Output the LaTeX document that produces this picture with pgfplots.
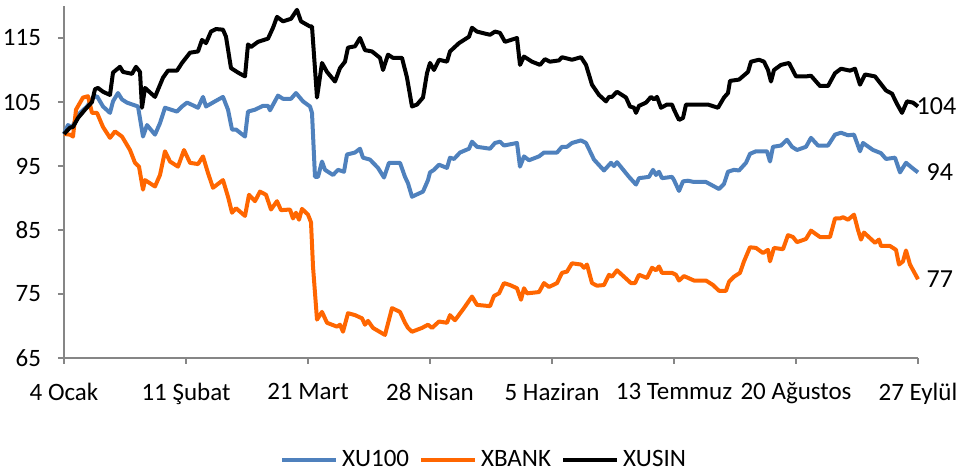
\documentclass[border=0pt]{standalone}
\usepackage{fontspec}
\setmainfont{Carlito}
\usepackage{pgfplots}
\usepackage{pgfplotstable}
\pgfplotsset{compat=1.18}

\definecolor{cBlue}{RGB}{79,129,189}
\definecolor{cOrange}{RGB}{255,102,0}
\definecolor{cAxis}{RGB}{134,134,134}

% x = pixel column of the original chart (64 = 4 Ocak, 918 = 27 Eylul)
\pgfplotstableread{
x v
64 100
70 101
73 101.1
78 102.5
85 103.8
92 105
95 107
98 107.2
103 106.6
110 106.1
113 109.6
120 110.5
123 109.7
132 109.4
136 110.5
140 109.7
142 104.1
145 107.2
155 105.8
163 108.8
168 109.9
177 109.9
182 111.1
190 112.7
198 112.9
202 114.7
206 114.2
211 116
216 116.4
223 116.3
226 115.2
231 110.3
238 109.6
245 109
248 114
251 113.6
258 114.4
268 114.9
273 116.6
277 118.3
283 117.6
291 118
297 119.4
301 117.6
310 116.8
312 116.8
317 105.7
322 111.1
327 109.7
335 108.2
340 110.3
345 111.3
348 113.5
355 113.7
360 115
365 113.1
372 112.9
380 111.9
383 110
388 112.4
393 111.9
402 111.9
407 108.8
412 104.3
417 104.6
423 105.7
427 109.5
430 111.1
434 110
439 111.6
447 111.3
450 112.9
459 114.2
469 115.2
472 116.6
477 116
490 115.5
495 116
500 115.8
505 114.4
517 115
520 110.8
524 112.1
532 111.3
540 110.8
545 111.7
550 111.3
559 111.5
562 112
572 111.6
581 112
586 110.8
592 107.7
599 106.1
606 105.1
609 105.8
612 105.8
617 106.6
626 105.7
630 104.3
634 104.1
636 103.3
639 104.4
646 104.9
651 105.8
654 105.4
657 105.8
661 104.1
667 104.6
672 104.6
674 103.8
679 102.2
683 102.5
686 104.6
708 104.6
718 104.1
724 105.7
728 106.4
730 108.3
739 108.5
748 109.7
751 111.3
759 111.6
764 111.3
768 110
771 108.2
774 110
781 110.8
789 111.1
796 109
806 109
811 109.1
820 107.5
828 107.5
835 109.5
841 110.2
850 109.9
855 110.2
860 107.7
865 109.3
875 109
879 108.2
886 106.8
892 106.3
897 104.7
902 103.3
907 105.1
913 104.9
918 104.3
}\xusin

\pgfplotstableread{
x v
64 100
68 101.4
72 101
78 103
87 104.3
93 105.7
97 105.9
103 104.3
110 103.3
113 105.1
118 106.4
122 105.4
127 104.9
138 104.3
143 99.6
147 101.4
155 99.9
160 101.7
165 104.1
177 103.5
182 104.3
187 104.9
190 104.7
198 104.1
203 105.8
206 104.3
215 105.1
223 105.8
228 103.8
232 100.7
236 100.7
245 99.6
248 103.5
255 103.8
263 104.4
268 104.4
270 103.7
278 106
283 105.5
291 105.5
296 106.4
303 105.1
310 104.3
312 103.3
315 93.3
318 93.3
322 95.7
325 94.4
333 93.6
338 94.4
344 94.1
347 96.8
355 97.1
360 97.7
363 96.3
370 96
378 94.7
384 93.2
389 95.5
400 95.5
405 93.3
408 92.3
412 90.2
423 91
428 92.8
430 94
434 94.4
439 95.2
447 94.7
450 96.3
454 96.1
460 97.1
469 97.7
472 98.8
477 98
490 97.7
495 98.6
500 98.8
504 98.2
517 98.6
520 94.9
524 96.5
529 95.9
539 96.5
544 97.1
557 97.1
562 98
567 98
572 98.6
581 99
586 98.6
594 96
604 94.3
611 95.5
614 95
617 95.6
629 93.3
636 92.1
639 93.1
649 93.3
653 94.4
656 93.6
659 94.1
662 93.1
672 93.3
674 92.8
679 91.1
683 92.6
688 92.7
694 92.5
706 92.5
719 91.4
724 92.2
728 94.1
734 94.4
739 94.3
746 95.5
750 96.9
756 97.3
767 97.3
770 95.7
773 98
781 98.2
787 99.1
792 98
797 97.5
806 98
811 99.4
818 98.2
828 98.2
835 99.9
841 100.2
848 99.8
854 99.9
860 97.3
863 98.6
873 97.5
881 97
886 96.1
895 96.3
900 94
906 95.5
913 94.6
918 94
}\xuhundred

\pgfplotstableread{
x v
64 100
70 99.9
73 99.6
76 103.8
83 105.7
88 105.9
92 103.3
97 103.3
103 101.1
110 99.4
115 100.4
122 99.6
130 97.5
135 95.5
139 94.9
143 91.3
145 92.8
155 91.8
160 93.6
165 97.3
170 95.7
178 94.9
184 97.5
190 95.5
198 95.3
203 96.5
208 93.9
213 91.6
223 92.8
228 90.2
232 87.7
236 88.4
245 87.2
249 90.5
255 89.5
260 91
266 90.5
271 88.2
277 89.5
281 88.1
290 88.2
293 86.8
296 87.7
299 86.6
302 88.3
308 87.4
311 86.2
313 79.3
317 71
322 72.2
327 70.5
337 69.9
340 70.2
343 69.1
348 72
355 71.7
362 71.2
365 70.2
368 70.8
373 69.7
385 68.6
392 72.8
400 72.2
405 70.5
408 69.7
412 69.1
422 69.7
428 70.2
432 69.7
439 70.7
447 70.5
450 71.7
455 70.9
464 72.8
472 74.6
477 73.3
490 73.1
494 74.7
499 75.1
504 76.7
510 76.4
517 75.9
521 74.1
524 75.9
527 75.1
539 75.3
544 76.7
549 76.1
557 76.7
562 78.3
567 78.5
572 79.8
581 79.6
584 79.1
587 79.6
592 76.7
597 76.3
604 76.4
609 78
612 77.7
617 78.7
631 76.7
635 76.7
639 78
647 77.5
652 79.1
656 78.7
659 79.3
662 78.3
672 78.3
676 78
679 77.1
684 77.8
694 77.1
706 77.1
713 76.4
719 75.5
726 75.5
729 76.9
734 77.7
740 78.3
744 80.1
750 82.3
756 82.2
763 81.4
768 81.9
770 80.1
774 82.2
783 82
788 84.2
793 83.9
797 83.1
806 83.6
811 84.9
820 83.9
830 83.9
835 86.8
840 86.8
843 87
848 86.6
854 87.4
858 85
861 83.5
864 84.6
875 83
879 83.5
881 82.5
890 82.5
896 81.9
899 79.6
903 80.1
906 81.8
910 79.6
918 77.3
}\xbank

\begin{document}
\begin{tikzpicture}
\useasboundingbox (-32pt,-58.5pt) rectangle (448pt,179pt);
\begin{axis}[
    at={(0,0)}, anchor=south west,
    scale only axis,
    width=427pt, height=176pt,
    xmin=64, xmax=918,
    ymin=65, ymax=120,
    clip=false,
    axis x line=bottom,
    axis y line=left,
    axis line style={cAxis, line width=1pt, -},
    tick style={cAxis, line width=1pt},
    tick align=outside,
    major tick length=3pt,
    xtick={64,186,308,430,552,674,796,918},
    xticklabels={4 Ocak, 11 Şubat, 21 Mart, 28 Nisan, 5 Haziran, 13 Temmuz, 20 Ağustos, 27 Eylül},
    ytick={65,75,85,95,105,115},
    /pgf/number format/assume math mode=true,
    tick label style={font=\fontsize{12.5}{15}\selectfont, text=black},
    xticklabel style={yshift=-6pt},
    yticklabel style={xshift=-5pt},
    legend style={
        at={(axis description cs:0.493,-0.29)},
        anchor=center,
        legend columns=3,
        draw=none, fill=none,
        font=\fontsize{12.5}{15}\selectfont,
        /tikz/every even column/.append style={column sep=3pt},
    },
    legend image code/.code={\draw[#1, line width=2pt] (0pt,0pt) -- (27pt,0pt);},
    every axis plot/.append style={line width=2pt, line join=round, mark=none},
]
\addplot[cBlue] table[x=x, y=v] {\xuhundred}
    node[pos=1, anchor=west, text=black, font=\fontsize{13}{15}\selectfont] {94};
\addplot[cOrange] table[x=x, y=v] {\xbank}
    node[pos=1, anchor=west, text=black, font=\fontsize{13}{15}\selectfont] {77};
\addplot[black] table[x=x, y=v] {\xusin}
    node[pos=1, anchor=west, xshift=-5pt, text=black, font=\fontsize{13}{15}\selectfont] {104};
\legend{XU100, XBANK, XUSIN}
\end{axis}
\end{tikzpicture}
\end{document}
